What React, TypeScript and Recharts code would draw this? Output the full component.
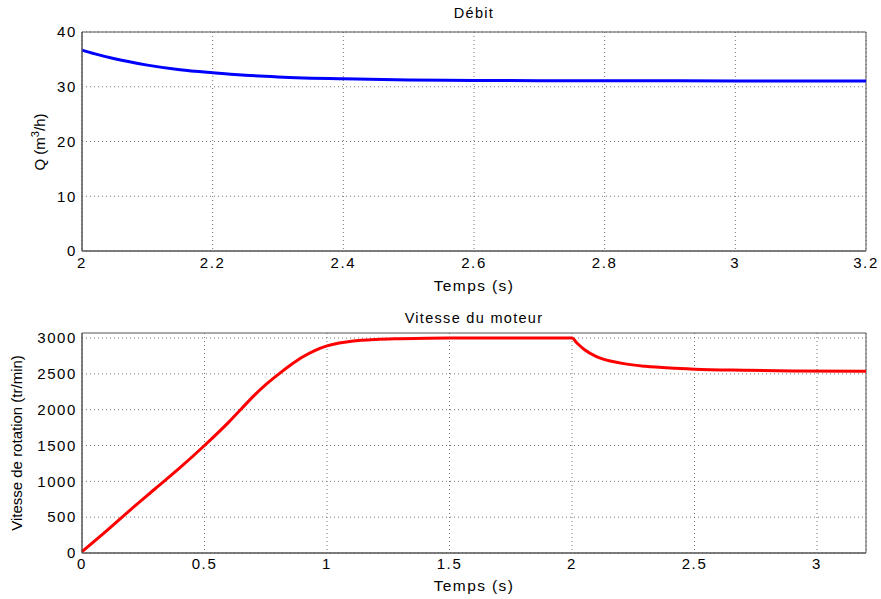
import React from 'react'
import { LineChart, Line, XAxis, YAxis, CartesianGrid, ReferenceArea } from 'recharts'

const debitTime = [2, 2.02, 2.05, 2.1, 2.15, 2.2, 2.25, 2.3, 2.4, 2.5, 2.6, 2.7, 2.8, 2.9, 3.0, 3.1, 3.2]
const debitQ = [36.7, 36.0, 35.1, 33.95, 33.1, 32.55, 32.1, 31.8, 31.45, 31.25, 31.15, 31.1, 31.1, 31.08, 31.05, 31.05, 31.05]

const speedTime = [0, 0.1, 0.2, 0.3, 0.4, 0.5, 0.6, 0.65, 0.7, 0.75, 0.8, 0.85, 0.9, 0.95, 1.0, 1.05, 1.1, 1.2, 1.3, 1.5, 1.8, 2.0, 2.02, 2.05, 2.1, 2.2, 2.3, 2.4, 2.5, 2.7, 2.9, 3.2]
const speed = [20, 310, 610, 900, 1190, 1500, 1830, 2010, 2190, 2350, 2490, 2620, 2735, 2825, 2890, 2930, 2955, 2980, 2990, 3000, 3000, 3000, 2930, 2840, 2740, 2650, 2605, 2580, 2565, 2550, 2540, 2535]

const debitXTicks = [2, 2.2, 2.4, 2.6, 2.8, 3, 3.2]
const debitYTicks = [0, 10, 20, 30, 40]
const speedXTicks = [0, 0.5, 1, 1.5, 2, 2.5, 3]
const speedYTicks = [0, 500, 1000, 1500, 2000, 2500, 3000]

const debitData = debitTime.map((t, i) => ({ t, q: debitQ[i] }))
const speedData = speedTime.map((t, i) => ({ t, v: speed[i] }))

const font = 'Liberation Sans, Arial, sans-serif'
const tickStyle = { fontSize: 15, fill: '#000', fontFamily: font, letterSpacing: 1.6 }
const xLabelStyle = { fontSize: 15.5, fill: '#000', fontFamily: font, letterSpacing: 1.4 }
const frame = '#555'
const gridColor = '#777'

function QLabel(): React.JSX.Element {
  return (
    <text x={45} y={142} transform="rotate(-90 45 142)" textAnchor="middle" fontSize={15} fontFamily={font} fill="#000">
      Q (m<tspan dy={-6} fontSize={11}>3</tspan><tspan dy={6}>/h)</tspan>
    </text>
  )
}

function SpeedLabel(): React.JSX.Element {
  return (
    <text x={22} y={153} transform="rotate(-90 22 153)" textAnchor="middle" fontSize={15} fontFamily={font} fill="#000">
      Vitesse de rotation (tr/min)
    </text>
  )
}

export default function App(): React.JSX.Element {
  return (
    <div style={{ position: 'absolute', left: 0, top: 0, width: 881, height: 599, background: '#fff', fontFamily: font }}>
      <div style={{ position: 'absolute', left: 82, width: 784, top: 5, textAlign: 'center', fontSize: 14.5, letterSpacing: 1.3 }}>Débit</div>
      <div style={{ position: 'absolute', left: 82, width: 784, top: 310, textAlign: 'center', fontSize: 14.5, letterSpacing: 1.3 }}>Vitesse du moteur</div>

      <div style={{ position: 'absolute', left: 0, top: 0 }}>
        <LineChart width={881} height={295} data={debitData} margin={{ top: 32, right: 15, left: 0, bottom: 0 }}>
          <CartesianGrid stroke={gridColor} strokeDasharray="1 3" />
          <XAxis
            dataKey="t"
            type="number"
            domain={[2, 3.2]}
            ticks={debitXTicks}
            interval={0}
            height={44}
            tickLine={false}
            axisLine={{ stroke: frame }}
            tickMargin={0}
            tick={tickStyle}
            label={{ value: 'Temps (s)', position: 'insideBottom', offset: 4, style: xLabelStyle }}
          />
          <YAxis
            type="number"
            domain={[0, 40]}
            ticks={debitYTicks}
            interval={0}
            width={82}
            tickLine={false}
            axisLine={{ stroke: frame }}
            tickMargin={-1}
            tick={tickStyle}
            label={<QLabel />}
          />
          <ReferenceArea x1={2} x2={3.2} y1={0} y2={40} fill="none" stroke={frame} strokeWidth={1} />
          <Line dataKey="q" type="monotone" stroke="#0000ff" strokeWidth={3} dot={false} isAnimationActive={false} />
        </LineChart>
      </div>

      <div style={{ position: 'absolute', left: 0, top: 290 }}>
        <LineChart width={881} height={309} data={speedData} margin={{ top: 43, right: 15, left: 0, bottom: 0 }}>
          <CartesianGrid stroke={gridColor} strokeDasharray="1 3" horizontalValues={speedYTicks} />
          <XAxis
            dataKey="t"
            type="number"
            domain={[0, 3.2]}
            ticks={speedXTicks}
            interval={0}
            height={46}
            tickLine={false}
            axisLine={{ stroke: frame }}
            tickMargin={-1}
            tick={tickStyle}
            label={{ value: 'Temps (s)', position: 'insideBottom', offset: 8, style: xLabelStyle }}
          />
          <YAxis
            type="number"
            domain={[0, 3070]}
            ticks={speedYTicks}
            interval={0}
            width={82}
            tickLine={false}
            axisLine={{ stroke: frame }}
            tickMargin={-1}
            tick={tickStyle}
            label={<SpeedLabel />}
          />
          <ReferenceArea x1={0} x2={3.2} y1={0} y2={3070} fill="none" stroke={frame} strokeWidth={1} />
          <Line dataKey="v" type="monotone" stroke="#ff0000" strokeWidth={3} dot={false} isAnimationActive={false} />
        </LineChart>
      </div>
    </div>
  )
}
